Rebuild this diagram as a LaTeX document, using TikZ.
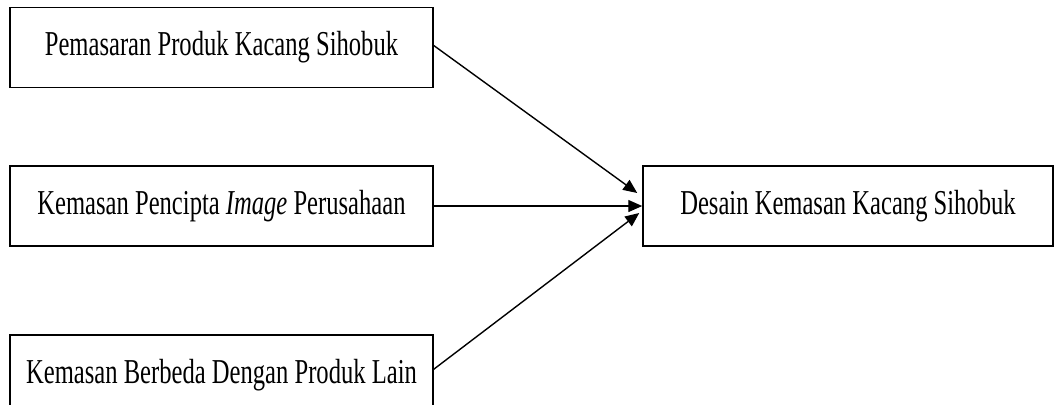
\documentclass[tikz,border=0pt]{standalone}
\usepackage{fontspec}
\usepackage{graphicx}
\setmainfont{Liberation Serif}
\usetikzlibrary{arrows.meta}
\tikzset{
  box/.style={draw, line width=0.75pt, minimum width=211.5pt, minimum height=40pt, inner sep=0pt, font=\fontsize{12.3}{14}\selectfont},
  arr/.style={line width=0.7pt, -{Triangle[length=7pt,width=6pt]}}
}
\newcommand{\tall}[1]{\scalebox{1}[1.42]{#1}}
\begin{document}
\begin{tikzpicture}[x=0.5pt,y=-0.5pt]
\useasboundingbox (0,0) rectangle (1057,404);
\clip (0,0) rectangle (1057,404);
\node[box] (b1) at (221.5,47.5) {\tall{Pemasaran Produk Kacang Sihobuk}};
\node[box] (b2) at (221.5,206) {\tall{Kemasan Pencipta \textit{Image} Perusahaan}};
\node[box] (b3) at (221.5,375) {\tall{Kemasan Berbeda Dengan Produk Lain}};
\node[box, minimum width=205pt] (r) at (848,206) {\tall{Desain Kemasan Kacang Sihobuk}};
\coordinate (t1) at ([xshift=-2.5pt,yshift=6.5pt]r.west);
\coordinate (t3) at ([xshift=-1.5pt,yshift=-3.5pt]r.west);
\coordinate (s1) at ([yshift=1pt]b1.east);
\coordinate (s3) at ([yshift=-17.5pt]b3.north east);
\draw[arr] (s1) -- (t1);
\draw[arr] (b2.east) -- (r.west);
\draw[arr] (s3) -- (t3);
\end{tikzpicture}
\end{document}
